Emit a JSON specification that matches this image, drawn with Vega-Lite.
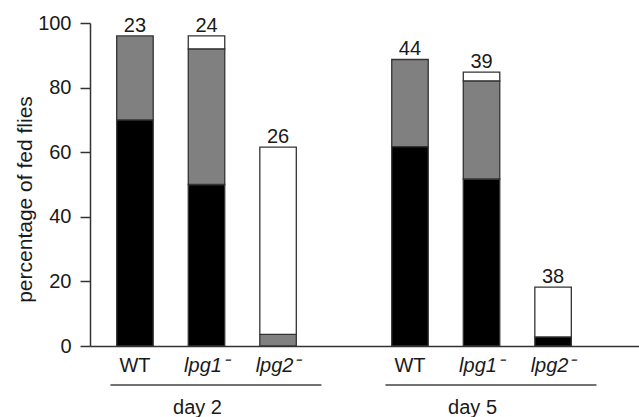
{
  "$schema": "https://vega.github.io/schema/vega-lite/v6.json",
  "width": 549,
  "height": 323,
  "autosize": {"type": "none"},
  "padding": {"left": 90, "top": 23, "right": 0, "bottom": 71},
  "background": "white",
  "config": {
    "view": {"stroke": null},
    "font": "Liberation Sans",
    "text": {"font": "Liberation Sans", "color": "#1a1a1a"}
  },
  "datasets": {
    "segments": [
      {"day": "day 2", "genotype": "WT", "level": 1, "category": "high", "value": 70, "n": 23},
      {"day": "day 2", "genotype": "WT", "level": 2, "category": "medium", "value": 26, "n": 23},
      {"day": "day 2", "genotype": "lpg1⁻", "level": 1, "category": "high", "value": 50, "n": 24},
      {"day": "day 2", "genotype": "lpg1⁻", "level": 2, "category": "medium", "value": 42, "n": 24},
      {"day": "day 2", "genotype": "lpg1⁻", "level": 3, "category": "low", "value": 4, "n": 24},
      {"day": "day 2", "genotype": "lpg2⁻", "level": 2, "category": "medium", "value": 3.6, "n": 26},
      {"day": "day 2", "genotype": "lpg2⁻", "level": 3, "category": "low", "value": 58, "n": 26},
      {"day": "day 5", "genotype": "WT", "level": 1, "category": "high", "value": 61.7, "n": 44},
      {"day": "day 5", "genotype": "WT", "level": 2, "category": "medium", "value": 27, "n": 44},
      {"day": "day 5", "genotype": "lpg1⁻", "level": 1, "category": "high", "value": 51.7, "n": 39},
      {"day": "day 5", "genotype": "lpg1⁻", "level": 2, "category": "medium", "value": 30.4, "n": 39},
      {"day": "day 5", "genotype": "lpg1⁻", "level": 3, "category": "low", "value": 2.7, "n": 39},
      {"day": "day 5", "genotype": "lpg2⁻", "level": 1, "category": "high", "value": 2.8, "n": 38},
      {"day": "day 5", "genotype": "lpg2⁻", "level": 3, "category": "low", "value": 15.4, "n": 38}
    ],
    "days": [
      {"day": "day 2"},
      {"day": "day 5"}
    ],
    "labels": [
      {"day": "day 2", "genotype": "WT"},
      {"day": "day 2", "genotype": "lpg1⁻"},
      {"day": "day 2", "genotype": "lpg2⁻"},
      {"day": "day 5", "genotype": "WT"},
      {"day": "day 5", "genotype": "lpg1⁻"},
      {"day": "day 5", "genotype": "lpg2⁻"}
    ]
  },
  "encoding": {
    "x": {
      "field": "day",
      "type": "nominal",
      "sort": ["day 2", "day 5"],
      "scale": {"paddingInner": 0.347, "paddingOuter": 0.1716, "align": 0.283},
      "axis": {
        "title": null,
        "labels": false,
        "ticks": false,
        "domain": true,
        "domainColor": "#333333",
        "domainWidth": 1.5
      }
    }
  },
  "layer": [
    {
      "data": {"name": "segments"},
      "mark": {"type": "bar", "stroke": "#333333", "strokeWidth": 1.3},
      "encoding": {
        "xOffset": {
          "field": "genotype",
          "type": "nominal",
          "sort": ["WT", "lpg1⁻", "lpg2⁻"],
          "scale": {"paddingInner": 0.49, "paddingOuter": 0}
        },
        "y": {
          "field": "value",
          "type": "quantitative",
          "stack": "zero",
          "scale": {"domain": [0, 100], "nice": false},
          "axis": {
            "title": "percentage of fed flies",
            "titleFont": "Liberation Sans",
            "titleFontSize": 21,
            "titleFontWeight": "normal",
            "titleColor": "#1a1a1a",
            "titlePadding": 2,
            "titleY": 176,
            "values": [0, 20, 40, 60, 80, 100],
            "grid": false,
            "labelFont": "Liberation Sans",
            "labelFontSize": 20,
            "labelColor": "#1a1a1a",
            "labelPadding": 9,
            "tickSize": 10,
            "tickColor": "#333333",
            "tickWidth": 1.5,
            "domainColor": "#333333",
            "domainWidth": 1.5
          }
        },
        "color": {
          "field": "category",
          "type": "nominal",
          "scale": {"domain": ["high", "medium", "low"], "range": ["#000000", "#808080", "#ffffff"]},
          "legend": null
        },
        "order": {"field": "level", "type": "quantitative", "sort": "ascending"}
      }
    },
    {
      "data": {"name": "segments"},
      "transform": [
        {"aggregate": [{"op": "sum", "field": "value", "as": "total"}], "groupby": ["day", "genotype", "n"]}
      ],
      "mark": {"type": "text", "fontSize": 20, "baseline": "alphabetic", "dy": -4},
      "encoding": {
        "xOffset": {
          "field": "genotype",
          "type": "nominal",
          "sort": ["WT", "lpg1⁻", "lpg2⁻"],
          "scale": {"paddingInner": 0.49, "paddingOuter": 0}
        },
        "y": {"field": "total", "type": "quantitative"},
        "text": {"field": "n", "type": "quantitative"}
      }
    },
    {
      "data": {"name": "labels"},
      "transform": [{"filter": "datum.genotype == 'WT'"}],
      "mark": {"type": "text", "fontSize": 20, "baseline": "alphabetic", "dy": 26},
      "encoding": {
        "xOffset": {
          "field": "genotype",
          "type": "nominal",
          "sort": ["WT", "lpg1⁻", "lpg2⁻"],
          "scale": {"paddingInner": 0.49, "paddingOuter": 0}
        },
        "y": {"datum": 0},
        "text": {"field": "genotype"}
      }
    },
    {
      "data": {"name": "labels"},
      "transform": [{"filter": "datum.genotype != 'WT'"}],
      "mark": {"type": "text", "fontSize": 20, "fontStyle": "italic", "baseline": "alphabetic", "dy": 26},
      "encoding": {
        "xOffset": {
          "field": "genotype",
          "type": "nominal",
          "sort": ["WT", "lpg1⁻", "lpg2⁻"],
          "scale": {"paddingInner": 0.49, "paddingOuter": 0}
        },
        "y": {"datum": 0},
        "text": {"field": "genotype"}
      }
    },
    {
      "data": {"name": "days"},
      "mark": {"type": "rule", "stroke": "#444444", "strokeWidth": 1.5, "yOffset": 39},
      "encoding": {
        "x": {"field": "day", "type": "nominal", "bandPosition": -0.035},
        "x2": {"field": "day", "bandPosition": 1.14},
        "y": {"datum": 0}
      }
    },
    {
      "data": {"name": "days"},
      "mark": {"type": "text", "fontSize": 20, "baseline": "alphabetic", "dy": 68},
      "encoding": {
        "x": {"field": "day", "type": "nominal", "bandPosition": 0.45},
        "y": {"datum": 0},
        "text": {"field": "day"}
      }
    }
  ]
}
